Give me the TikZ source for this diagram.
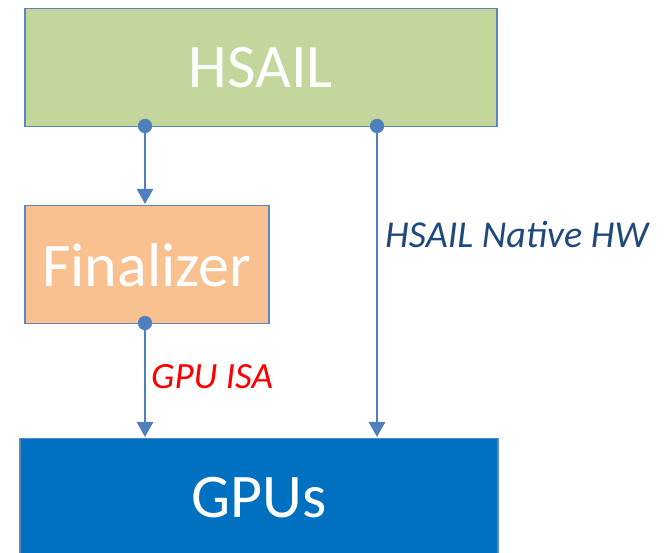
\documentclass[tikz,border=0pt]{standalone}
\usepackage{fontspec}
\setmainfont{Carlito}
\usetikzlibrary{arrows.meta}
\definecolor{hsailgreen}{HTML}{C3D69B}
\definecolor{finorange}{HTML}{F9C090}
\definecolor{gpublue}{HTML}{0070C0}
\definecolor{edgeblue}{HTML}{5B86C2}
\definecolor{linkblue}{HTML}{4F7FBD}
\definecolor{navytext}{HTML}{1F497D}
\begin{document}
\begin{tikzpicture}[x=1pt,y=-1pt,
  block/.style={draw=edgeblue, line width=1.5pt, text=white,
    font=\fontsize{62}{62}\selectfont, inner sep=0pt, anchor=north west},
  link/.style={linkblue, line width=2.5pt, -{Triangle[length=15pt,width=16pt]}},
  dot/.style={circle, fill=linkblue, minimum size=14pt, inner sep=0pt},
  tag/.style={anchor=west, inner sep=0pt, font=\fontsize{38}{38}\selectfont\itshape}]
\useasboundingbox (0,0) rectangle (665,553);
% boxes
\node[block, fill=hsailgreen, minimum width=472pt, minimum height=118pt] (hsail) at (24,8) {HSAIL};
\node[block, fill=finorange, minimum width=244pt, minimum height=118pt] (fin) at (24,205) {Finalizer};
\node[block, fill=gpublue, minimum width=478pt, minimum height=118pt] (gpu) at (19,438) {GPUs};
% connection points
\node[dot] (d1) at (145,126) {};
\node[dot] (d2) at (377,126) {};
\node[dot] (d3) at (145,323) {};
% connectors
\draw[link, shorten >=1pt] (d1.center) -- (d1.center |- fin.north);
\draw[link, shorten >=1pt] (d3.center) -- (d3.center |- gpu.north);
\draw[link, shorten >=1pt] (d2.center) -- (d2.center |- gpu.north);
\node[dot] at (d1) {};
\node[dot] at (d2) {};
\node[dot] at (d3) {};
% labels
\node[tag, text=navytext] (lnative) at (385,235) {HSAIL Native HW};
\node[tag, text=red, font=\fontsize{37}{37}\selectfont\itshape] (lisa) at (151,377) {GPU ISA};
\end{tikzpicture}
\end{document}
